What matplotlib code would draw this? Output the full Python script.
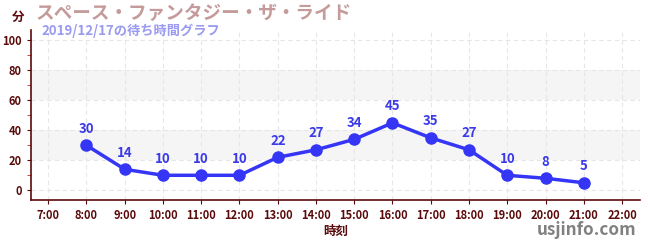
import matplotlib
matplotlib.use("Agg")
import matplotlib.pyplot as plt
from matplotlib.ticker import MultipleLocator

plt.rcParams['font.family'] = ['Noto Sans CJK JP', 'DejaVu Sans']

hours = [8, 9, 10, 11, 12, 13, 14, 15, 16, 17, 18, 19, 20, 21]
waits = [30, 14, 10, 10, 10, 22, 27, 34, 45, 35, 27, 10, 8, 5]
tick_hours = list(range(7, 23))
tick_labels = [f"{h}:00" for h in tick_hours]
title = "スペース・ファンタジー・ザ・ライド"
subtitle = "2019/12/17の待ち時間グラフ"

dark = '#5a0a0a'
fig = plt.figure(figsize=(6.5, 2.5), dpi=100)
ax = fig.add_axes([31/650, 50/250, 609/650, 170/250])
ax.set_xlim(6.55, 22.47)
ax.set_ylim(-6.5, 107)

for lo, hi in [(20, 40), (60, 80)]:
    ax.axhspan(lo, hi, color='#f5f5f5', zorder=0, lw=0)
for y in range(0, 101, 20):
    ax.axhline(y, color='#e6e6e6', ls=(0, (4, 3)), lw=0.8, zorder=0.5)
for x in tick_hours:
    ax.axvline(x, color='#e6e6e6', ls=(0, (4, 3)), lw=0.8, zorder=0.5)

ax.plot(hours, waits, color='#3535f5', lw=2.5, marker='o', ms=8, zorder=3)
for h, w in zip(hours, waits):
    ax.annotate(str(w), (h, w), xytext=(0, 7), textcoords='offset points',
                ha='center', va='bottom', color='#3a3ae8', fontsize=9.5, fontweight='bold')

ax.set_xticks(tick_hours)
ax.set_xticklabels(tick_labels)
ax.set_yticks(range(0, 101, 20))
ax.yaxis.set_minor_locator(MultipleLocator(10))
ax.tick_params(axis='both', colors=dark, labelsize=8, length=3, labelcolor=dark)
ax.tick_params(axis='y', which='minor', colors='#d02020', length=3)
for lab in ax.get_xticklabels() + ax.get_yticklabels():
    lab.set_fontweight('bold')
for s in ['top', 'right']:
    ax.spines[s].set_visible(False)
for s in ['left', 'bottom']:
    ax.spines[s].set_color(dark)
    ax.spines[s].set_linewidth(1.2)

ax.set_xlabel("時刻", color=dark, fontsize=9, fontweight='bold', labelpad=2)
fig.text(12/650, 1 - 17/250, "分", color=dark, fontsize=9, fontweight='bold', va='center')
fig.text(36/650, 1 - 13/250, title, color='#c49a9a', fontsize=13.4, fontweight='bold', va='center')
fig.text(41/650, 1 - 31/250, subtitle, color='#9a9af0', fontsize=9.5, fontweight='bold', va='center')
fig.text(636/650, 1 - 230/250, "usjinfo.com", color='#808080', fontsize=12.3, fontweight='bold',
         ha='right', va='center')

fig.savefig('out.png', dpi=100)
